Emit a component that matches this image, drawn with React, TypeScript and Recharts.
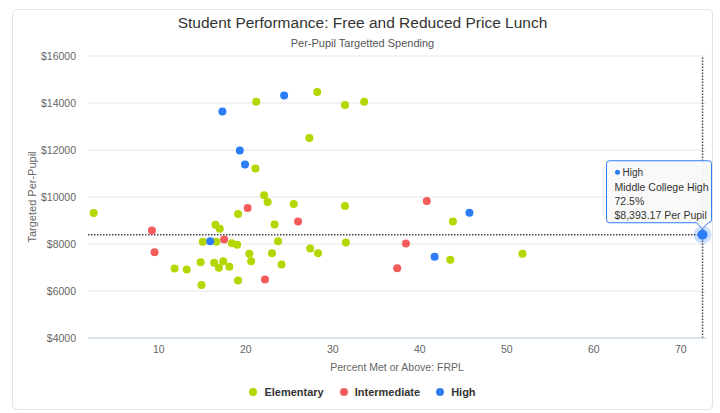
import {
  ScatterChart, Scatter, XAxis, YAxis, CartesianGrid,
  ReferenceLine, Legend,
} from "recharts";

// [percent met or above, per-pupil spending]
const elementary: [number, number][] = [
  [2.5, 9315], [11.8, 6956], [13.2, 6913], [14.8, 7225], [14.9, 6260],
  [15.05, 8094], [16.6, 8094], [16.5, 8819], [17.0, 8648], [16.35, 7198],
  [16.9, 6985], [17.4, 7268], [18.1, 7027], [18.4, 8036], [19.0, 7966],
  [19.1, 9273], [19.1, 6444], [20.4, 7582], [20.6, 7268], [22.1, 10070],
  [22.5, 9786], [23.3, 8833], [23.7, 8121], [23.0, 7610], [24.1, 7127],
  [25.5, 9699], [27.4, 7809], [28.3, 7610], [31.4, 9614], [31.5, 8065],
  [43.5, 7327], [43.8, 8961], [51.8, 7582], [21.2, 14051], [28.2, 14464],
  [31.4, 13910], [33.6, 14051], [27.3, 12515], [21.1, 11209],
];
const intermediate: [number, number][] = [
  [9.2, 8577], [9.5, 7652], [17.5, 8193], [20.2, 9530], [22.2, 6487],
  [26.0, 8961], [40.8, 9827], [38.4, 8023], [37.4, 6969],
];
const high: [number, number][] = [
  [15.9, 8121], [17.3, 13641], [24.4, 14323], [19.3, 11977], [19.9, 11380],
  [41.7, 7455], [45.7, 9332],
];
const highlighted = { school: "Middle College High", level: "High", x: 72.5, y: 8393.17 };

const levels = ["Elementary", "Intermediate", "High"];
const xTicks = [10, 20, 30, 40, 50, 60, 70];
const yTicks = [4000, 6000, 8000, 10000, 12000, 14000, 16000];

const GREEN = "#b5d600";
const RED = "#f45b5b";
const BLUE = "#2b7cf7";
const FONT = "'Liberation Sans', Arial, sans-serif";

const toPoints = (rows: [number, number][]) => rows.map(([x, y]) => ({ x, y }));

const dot = (color: string) => (p: any) => (
  <circle cx={p.cx} cy={p.cy} r={4} fill={color} />
);

function TipShape(p: any) {
  const { cx, cy } = p;
  const left = cx - 96, right = cx + 9, top = cy - 74, bottom = cy - 12;
  const r = 3;
  const path = [
    `M ${left + r} ${top}`, `L ${right - r} ${top}`, `Q ${right} ${top} ${right} ${top + r}`,
    `L ${right} ${bottom - r}`, `Q ${right} ${bottom} ${right - r} ${bottom}`,
    `L ${cx + 6} ${bottom}`, `L ${cx} ${cy - 6}`, `L ${cx - 6} ${bottom}`,
    `L ${left + r} ${bottom}`, `Q ${left} ${bottom} ${left} ${bottom - r}`,
    `L ${left} ${top + r}`, `Q ${left} ${top} ${left + r} ${top}`, "Z",
  ].join(" ");
  const money = highlighted.y.toLocaleString("en-US", { minimumFractionDigits: 2 });
  return (
    <g style={{ fontFamily: FONT }}>
      <circle cx={cx} cy={cy} r={9} fill={BLUE} fillOpacity={0.25} />
      <circle cx={cx} cy={cy} r={5} fill={BLUE} />
      <path d={path} fill="rgba(249,249,249,0.92)" stroke={BLUE} strokeWidth={1} />
      <circle cx={cx - 85} cy={cy - 62.5} r={2.5} fill={BLUE} />
      <text x={cx - 80} y={cy - 59} fontSize={10} fill="#333">{highlighted.level}</text>
      <text x={cx - 88} y={cy - 44} fontSize={10.5} fill="#333">{highlighted.school}</text>
      <text x={cx - 88} y={cy - 30} fontSize={10.5} fill="#333">{highlighted.x}%</text>
      <text x={cx - 88} y={cy - 16} fontSize={10.5} fill="#333">${money} Per Pupil</text>
    </g>
  );
}

function LegendContent({ payload }: any) {
  const items = (payload || [])
    .filter((e: any) => levels.includes(e.value))
    .sort((a: any, b: any) => levels.indexOf(a.value) - levels.indexOf(b.value));
  return (
    <div style={{
      display: "flex", justifyContent: "center", alignItems: "center", height: 20,
      fontFamily: FONT, fontSize: 11, fontWeight: "bold", color: "#333",
    }}>
      {items.map((e: any) => (
        <span key={e.value} style={{ display: "flex", alignItems: "center", margin: "0 8px" }}>
          <span style={{ width: 8, height: 8, borderRadius: 4, background: e.color, marginRight: 7 }} />
          {e.value}
        </span>
      ))}
    </div>
  );
}

export default function App() {
  return (
    <div style={{
      position: "absolute", left: 12, top: 9, width: 701, height: 401,
      border: "1px solid #e2e2e2", borderRadius: 5, boxSizing: "border-box",
      fontFamily: FONT, background: "#fff",
    }}>
      <div style={{
        position: "absolute", top: 3, left: 0, width: "100%", textAlign: "center",
        fontSize: 15.5, lineHeight: "20px", color: "#333",
      }}>Student Performance: Free and Reduced Price Lunch</div>
      <div style={{
        position: "absolute", top: 26, left: 0, width: "100%", textAlign: "center",
        fontSize: 11, lineHeight: "14px", color: "#555",
      }}>Per-Pupil Targetted Spending</div>
      <div style={{ position: "absolute", left: 0, top: 0 }}>
        <ScatterChart width={699} height={399} margin={{ top: 46, right: 6, bottom: 7, left: 0 }}>
          <CartesianGrid horizontal vertical={false} stroke="#e6e6e6" />
          <XAxis
            type="number" dataKey="x" domain={[1.85, 72.9]} ticks={xTicks} interval={0}
            height={44} tickSize={0} tickMargin={8} tickLine={false}
            axisLine={{ stroke: "#c0d0e0" }}
            tick={{ fontSize: 10.5, fill: "#666", fontFamily: FONT }}
            label={{
              value: "Percent Met or Above: FRPL", position: "insideBottom", offset: 11,
              style: { fontSize: 10.5, fill: "#666", fontFamily: FONT },
            }}
          />
          <YAxis
            type="number" dataKey="y" domain={[4000, 16000]} ticks={yTicks} interval={0}
            width={75} tickSize={0} tickMargin={12} tickLine={false} axisLine={false}
            tickFormatter={(v: number) => `$${v}`}
            tick={{ fontSize: 10.5, fill: "#666", fontFamily: FONT }}
            label={{
              value: "Targeted Per-Pupil", angle: -90, position: "insideLeft", offset: 19,
              style: { fontSize: 11, fill: "#666", fontFamily: FONT, textAnchor: "middle" },
            }}
          />
          <ReferenceLine x={highlighted.x} stroke="#444" strokeWidth={1.5} strokeDasharray="1.5 1.5" />
          <ReferenceLine y={highlighted.y} stroke="#444" strokeWidth={1.5} strokeDasharray="1.5 1.5" />
          <Scatter name="Elementary" data={toPoints(elementary)} fill={GREEN}
            shape={dot(GREEN)} isAnimationActive={false} />
          <Scatter name="Intermediate" data={toPoints(intermediate)} fill={RED}
            shape={dot(RED)} isAnimationActive={false} />
          <Scatter name="High" data={[...toPoints(high), { x: highlighted.x, y: highlighted.y }]}
            fill={BLUE} shape={dot(BLUE)} isAnimationActive={false} />
          <Scatter name="tip" data={[{ x: highlighted.x, y: highlighted.y }]} fill={BLUE}
            legendType="none" shape={TipShape} isAnimationActive={false} />
          <Legend verticalAlign="bottom" align="center" content={LegendContent}
            wrapperStyle={{ left: 0, width: 699 }} />
        </ScatterChart>
      </div>
    </div>
  );
}
